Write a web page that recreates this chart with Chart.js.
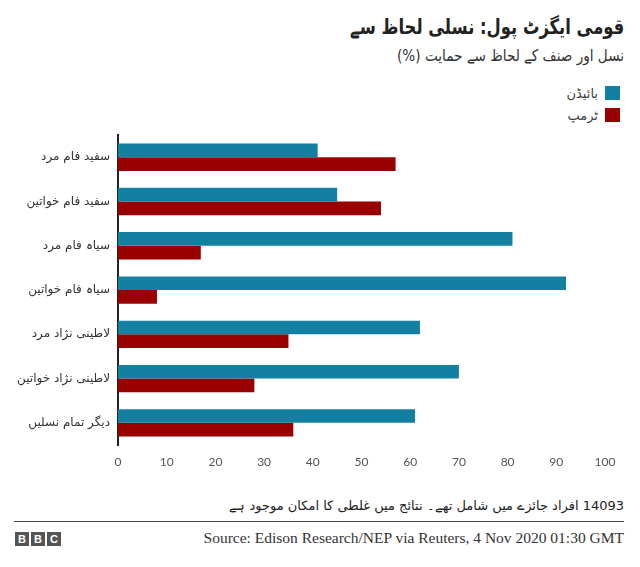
<!DOCTYPE html>
<html>
<head>
<meta charset="utf-8">
<script src="https://cdn.jsdelivr.net/npm/chart.js@4"></script>
<style>
  body { margin: 0; width: 640px; height: 567px; background: #fff; position: relative; font-family: "DejaVu Sans", sans-serif; overflow: hidden; }
  .rtl { direction: rtl; text-align: right; position: absolute; right: 16px; white-space: nowrap; }
  #title { top: 15px; font-size: 21px; font-weight: bold; color: #222; transform: scaleX(0.78); transform-origin: right center; }
  #subtitle { top: 46px; font-size: 16px; color: #333; transform: scaleX(0.85); transform-origin: right center; }
  #legend { top: 82px; right: 20px; font-size: 13px; color: #404040; }
  #legend div { display: flex; align-items: center; height: 22px; }
  #legend span.sw { display: inline-block; width: 15px; height: 14px; margin-left: 7px; }
  #chartWrap { position: absolute; left: 0; top: 120px; width: 640px; height: 365px; }
  #note { top: 498px; font-size: 13px; color: #222; }
  #rule { position: absolute; left: 14px; width: 610px; top: 521px; height: 1px; background: #444; }
  #bbc { position: absolute; left: 15px; top: 532px; display: flex; gap: 2px; }
  #bbc span { width: 14px; height: 14px; background: #555; color: #fff; font: bold 11px "Liberation Sans", sans-serif; text-align: center; line-height: 14px; }
  #source { position: absolute; right: 16px; top: 529px; font: 15.5px "Liberation Serif", serif; color: #333; }
</style>
</head>
<body>
<div id="title" class="rtl">قومی ایگزٹ پول: نسلی لحاظ سے</div>
<div id="subtitle" class="rtl">نسل اور صنف کے لحاظ سے حمایت (%)</div>
<div id="legend" class="rtl"></div>
<div id="chartWrap"><canvas id="chart"></canvas></div>
<div id="note" class="rtl">14093 افراد جائزے میں شامل تھے۔ نتائج میں غلطی کا امکان موجود ہے</div>
<div id="rule"></div>
<div id="bbc"><span>B</span><span>B</span><span>C</span></div>
<div id="source">Source: Edison Research/NEP via Reuters, 4 Nov 2020 01:30 GMT</div>
<script>
const groups = ['سفید فام مرد', 'سفید فام خواتین', 'سیاہ فام مرد', 'سیاہ فام خواتین', 'لاطینی نژاد مرد', 'لاطینی نژاد خواتین', 'دیگر تمام نسلیں'];
const biden = [41, 45, 81, 92, 62, 70, 61];
const trump = [57, 54, 17, 8, 35, 28, 36];
const seriesNames = ['بائیڈن', 'ٹرمپ'];
const seriesColors = ['#1380A1', '#990000'];
const xTicks = [0, 10, 20, 30, 40, 50, 60, 70, 80, 90, 100];

// legend on the right, swatch after the text
const legend = document.getElementById('legend');
seriesNames.forEach((name, i) => {
    const row = document.createElement('div');
    row.innerHTML = '<span class="sw" style="background:' + seriesColors[i] + '"></span><span>' + name + '</span>';
    legend.appendChild(row);
});

const ctx = document.querySelector('#chart').getContext('2d');

new Chart(ctx, {
    type: 'bar',
    data: {
        labels: groups,
        datasets: [
            { label: seriesNames[0], data: biden, backgroundColor: seriesColors[0] },
            { label: seriesNames[1], data: trump, backgroundColor: seriesColors[1] }
        ]
    },
    options: {
        indexAxis: 'y',
        responsive: true,
        maintainAspectRatio: false,
        animation: false,
        categoryPercentage: 0.62,
        barPercentage: 1,
        layout: { padding: { left: 0, right: 35, top: 6, bottom: 10 } },
        plugins: { legend: { display: false }, tooltip: { enabled: false } },
        scales: {
            x: {
                min: 0,
                max: 100,
                afterBuildTicks: axis => { axis.ticks = xTicks.map(v => ({ value: v })); },
                grid: { display: false, drawTicks: false },
                border: { display: false },
                ticks: { padding: 10, color: '#555', font: { family: 'Lato', size: 12 } },
                afterFit: axis => { axis.height = 30; }
            },
            y: {
                grid: { display: false, drawTicks: false },
                border: { display: true, color: '#222', width: 2 },
                ticks: { padding: 8, color: '#333', font: { family: 'DejaVu Sans', size: 12 } },
                afterFit: axis => { axis.width = 118; }
            }
        }
    }
});
</script>
</body>
</html>
